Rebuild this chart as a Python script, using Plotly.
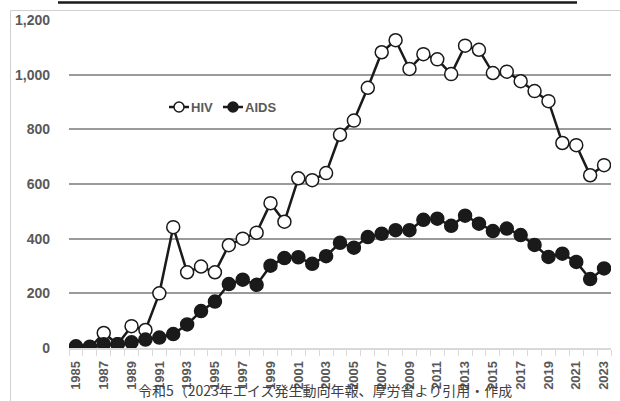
import plotly.graph_objects as go

years = list(range(1985, 2024))
hiv = [0, 0, 55, 14, 80, 66, 200, 442, 277, 298, 277, 376, 400, 422, 530, 462,
       621, 614, 640, 780, 832, 952, 1082, 1126, 1021, 1075, 1056, 1002, 1106,
       1091, 1006, 1011, 976, 940, 903, 750, 742, 632, 669]
aids = [6, 5, 14, 14, 21, 31, 38, 51, 86, 135, 170, 234, 250, 231, 301, 329,
        332, 308, 336, 385, 367, 406, 418, 431, 431, 469, 473, 447, 484, 455,
        428, 437, 413, 377, 333, 345, 315, 252, 291]
series_names = ["HIV", "AIDS"]
x_tick_years = list(range(1985, 2024, 2))
y_ticks = [0, 200, 400, 600, 800, 1000, 1200]
y_tick_text = ["0", "200", "400", "600", "800", "1,000", "1,200"]
source_text = "令和5（2023年エイズ発生動向年報、厚労省より引用・作成"

GRAY = "#595959"
INK = "#1a1a1a"
fills = ["white", INK]

fig = go.Figure()
for name, vals, fill in zip(series_names, [hiv, aids], fills):
    fig.add_trace(go.Scatter(
        x=years, y=vals, name=name, mode="lines+markers", showlegend=False,
        line=dict(color=INK, width=2.5),
        marker=dict(size=13, color=fill, line=dict(color=INK, width=1.5)),
    ))

fig.update_layout(
    width=620, height=401,
    margin=dict(l=69, r=9, t=20, b=53),
    paper_bgcolor="white", plot_bgcolor="white",
    font=dict(family="Liberation Sans, Arial, sans-serif", color=GRAY),
    showlegend=False,
)
fig.update_xaxes(
    range=[1984.5, 2023.5], tickmode="array", tickvals=x_tick_years,
    ticktext=[str(y) for y in x_tick_years], tickangle=-90,
    tickfont=dict(size=13, color=GRAY, weight="bold"),
    ticks="", showgrid=False, zeroline=False,
    showline=True, linecolor="#d9d9d9", linewidth=1.5,
    minor=dict(tick0=1984.5, dtick=1, ticks="outside", ticklen=6,
               tickcolor="#d9d9d9", tickwidth=1, showgrid=False),
    ticklabelstandoff=6,
)
fig.update_yaxes(
    range=[0, 1200], tickmode="array", tickvals=y_ticks, ticktext=y_tick_text,
    tickfont=dict(size=14, color=GRAY, weight="bold"),
    showgrid=True, gridcolor="#9a9a9a", gridwidth=1.5,
    zeroline=False, showline=False, ticks="", ticklabelstandoff=18,
)


def px_x(p):
    return (p - 69) / 542


def px_y(p):
    return (348 - p) / 328


# chart border (Excel chart area)
fig.add_shape(type="rect", xref="paper", yref="paper",
              x0=px_x(10.5), x1=px_x(640), y0=px_y(430), y1=px_y(10.5),
              line=dict(color="#d0d0d0", width=1), fillcolor="rgba(0,0,0,0)", layer="above")
# underline of heading cropped above
fig.add_shape(type="line", xref="paper", yref="paper",
              x0=px_x(58), x1=px_x(577), y0=px_y(2.5), y1=px_y(2.5),
              line=dict(color=INK, width=2.5))

# legend (Excel style, short symbols)
leg_y = px_y(107)
for name, fill, cx in zip(series_names, fills, [179, 233]):
    fig.add_shape(type="line", xref="paper", yref="paper",
                  xsizemode="pixel", ysizemode="pixel",
                  xanchor=px_x(cx), yanchor=leg_y, x0=-10, x1=10, y0=0, y1=0,
                  line=dict(color=INK, width=2.5))
    fig.add_shape(type="circle", xref="paper", yref="paper",
                  xsizemode="pixel", ysizemode="pixel",
                  xanchor=px_x(cx), yanchor=leg_y, x0=-5, x1=5, y0=-5, y1=5,
                  line=dict(color=INK, width=1.5), fillcolor=fill)
    fig.add_annotation(text=f"<b>{name}</b>", xref="paper", yref="paper",
                       x=px_x(cx + 10), y=leg_y, xanchor="left", yanchor="middle",
                       showarrow=False, font=dict(size=13, color=GRAY))

fig.add_annotation(text=source_text, xref="paper", yref="paper",
                   x=px_x(325), y=px_y(378), xanchor="center", yanchor="top",
                   showarrow=False,
                   font=dict(size=14, color="#404040",
                             family="Noto Sans CJK JP, sans-serif"))

fig.write_html("out.html", config={"displayModeBar": False},
               post_script="document.body.style.margin='0';document.body.style.overflow='hidden';")
